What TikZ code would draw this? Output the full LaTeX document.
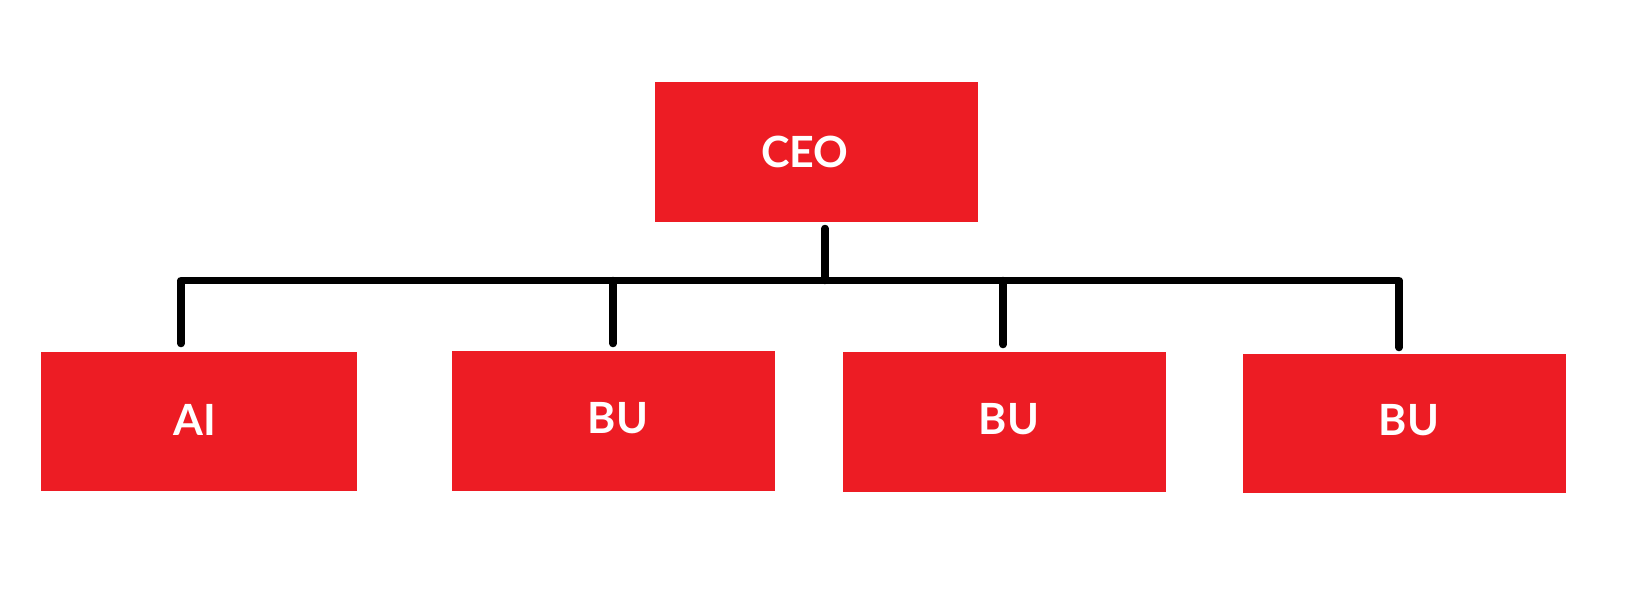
\documentclass[tikz,border=0pt]{standalone}
\usepackage{fontspec}
\setsansfont{Lato}
\begin{document}
\begin{tikzpicture}[x=1pt,y=-1pt,
  box/.style={fill=boxred, draw=none, inner sep=0pt, outer sep=0pt, rectangle},
  lbl/.style={text=white, font=\sffamily\bfseries\fontsize{43}{50}\selectfont, inner sep=0pt},
  conn/.style={line width=7.5pt, black, line cap=round, line join=round}]
\definecolor{boxred}{HTML}{ED1C24}
\useasboundingbox (0,0) rectangle (1626,594);
% boxes
\node[box, minimum width=323pt, minimum height=140pt] (ceo) at (816.5,152) {};
\node[box, minimum width=316pt, minimum height=139pt] (ai)  at (199,421.5) {};
\node[box, minimum width=323pt, minimum height=140pt] (bu1) at (613.5,421) {};
\node[box, minimum width=323pt, minimum height=140pt] (bu2) at (1004.5,422) {};
\node[box, minimum width=323pt, minimum height=139pt] (bu3) at (1404.5,423.5) {};
% labels
\node[lbl] (tceo) at (805,152) {CEO};
\node[lbl] (tai)  at (195,419.5) {AI};
\node[lbl] (tbu1) at (618,418) {BU};
\node[lbl] (tbu2) at (1009,419.5) {BU};
\node[lbl] (tbu3) at (1409,420.5) {BU};
% bus coordinates
\coordinate (busC) at (825,280.5);
\coordinate (busL) at (181,280.5);
\coordinate (busR) at (1399,280.5);
\coordinate (bus1) at (613,280.5);
\coordinate (bus2) at (1003,280.5);
% connectors
\draw[conn] ([yshift=-6.5pt]ceo.south -| busC) -- (busC);
\draw[conn] ([yshift=8.5pt]ai.north -| busL) -- (busL) -- (busR) -- ([yshift=6.5pt]bu3.north -| busR);
\draw[conn] (bus1) -- ([yshift=7.5pt]bu1.north -| bus1);
\draw[conn] (bus2) -- ([yshift=7.5pt]bu2.north -| bus2);
\end{tikzpicture}
\end{document}
